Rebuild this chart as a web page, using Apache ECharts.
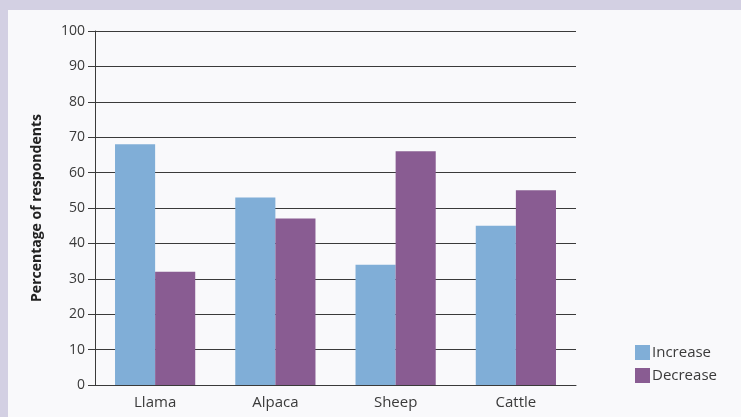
<!DOCTYPE html>
<html>
<head>
<meta charset="utf-8">
<script src="https://cdn.jsdelivr.net/npm/echarts@6/dist/echarts.min.js"></script>
<style>
  html, body { margin: 0; padding: 0; background: #d3d0e3; }
  #chart { position: absolute; left: 8px; top: 10px; width: 733px; height: 407px; background: #f9f9fb; }
</style>
</head>
<body>
<div id="chart"></div>
<script>
// values
const categories = ['Llama', 'Alpaca', 'Sheep', 'Cattle']
const increase = [68, 53, 34, 45]
const decrease = [32, 47, 66, 55]
const yTitle = 'Percentage of respondents'

const font = '"Open Sans", "Noto Sans", sans-serif'
const axisColor = '#3a3a3a'

const chart = echarts.init(document.getElementById('chart'))
chart.setOption({
  animation: false,
  textStyle: { fontFamily: font },
  color: ['#80aed7', '#895c92'],
  grid: { left: 87, right: 165, top: 21, bottom: 32 },
  legend: {
    orient: 'vertical',
    left: 622,
    top: 330,
    itemWidth: 15,
    itemHeight: 15,
    itemGap: 8,
    icon: 'rect',
    textStyle: { fontSize: 15, color: '#3a3a3a', fontFamily: font, padding: [0, 0, 0, -3] },
    data: ['Increase', 'Decrease']
  },
  xAxis: {
    type: 'category',
    data: categories,
    axisLine: { lineStyle: { color: axisColor, width: 1 } },
    axisTick: { length: 7, lineStyle: { color: axisColor } },
    axisLabel: { fontSize: 15, color: '#3a3a3a', margin: 10 }
  },
  yAxis: {
    type: 'value',
    min: 0,
    max: 100,
    interval: 10,
    name: yTitle,
    nameLocation: 'middle',
    nameGap: 51,
    nameTextStyle: { fontSize: 14, fontWeight: 'bold', color: '#222' },
    axisLine: { show: true, lineStyle: { color: axisColor } },
    axisTick: { show: true, length: 7, lineStyle: { color: axisColor } },
    axisLabel: { fontSize: 14, color: '#3a3a3a', margin: 10 },
    splitLine: { lineStyle: { color: axisColor, width: 1 } }
  },
  series: [
    { name: 'Increase', type: 'bar', data: increase, barGap: '0%', barCategoryGap: '33.3%' },
    { name: 'Decrease', type: 'bar', data: decrease }
  ]
})
</script>
</body>
</html>
